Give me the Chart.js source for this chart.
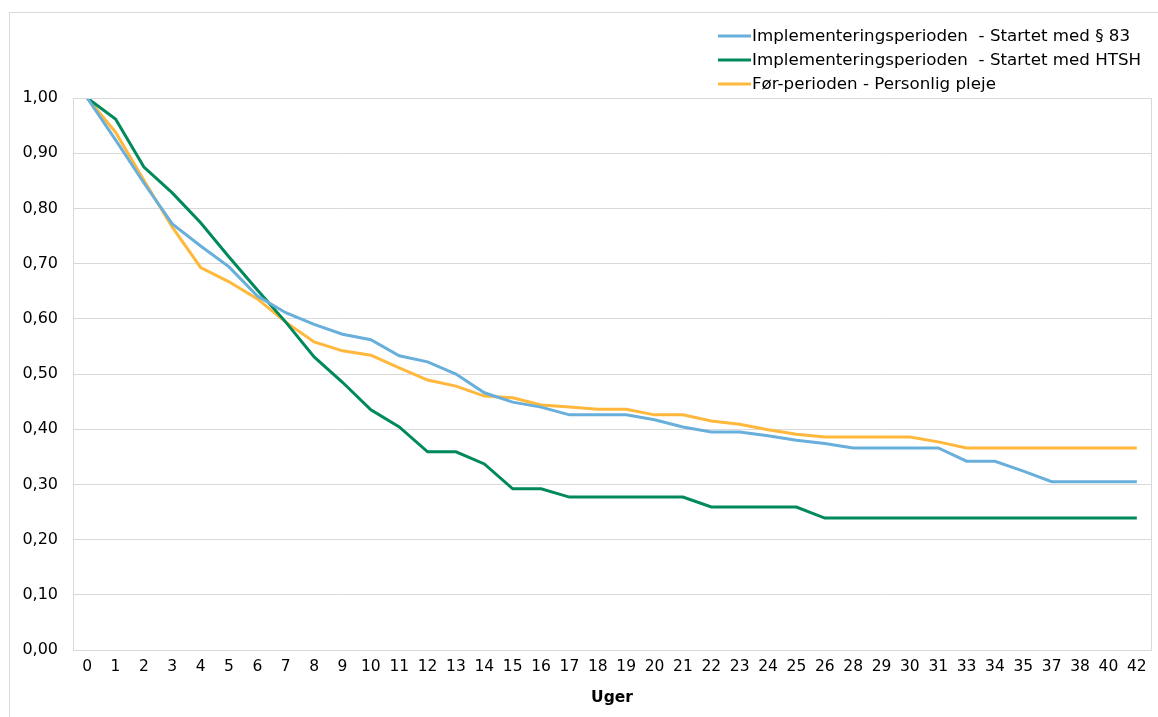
<!DOCTYPE html>
<html>
<head>
<meta charset="utf-8">
<script src="https://cdn.jsdelivr.net/npm/chart.js@4.4.1/dist/chart.umd.min.js"></script>
<style>
  html, body { margin: 0; padding: 0; background: #fff; }
  #wrap { width: 1158px; height: 717px; }
</style>
</head>
<body>
<div id="wrap"><canvas id="chart" width="1158" height="717"></canvas></div>
<script>
// Uger (x-akse)
const uger = ['0','1','2','3','4','5','6','7','8','9','10','11','12','13','14','15','16','17','18','19','20',
  '21','22','23','24','25','26','28','29','30','31','33','34','35','37','38','40','42'];

// Implementeringsperioden - Startet med § 83
const startetParagraf83 = [1.00,0.924,0.846,0.772,0.732,0.694,0.641,0.611,0.590,0.572,0.562,0.533,0.522,0.500,0.466,
  0.449,0.440,0.426,0.426,0.426,0.417,0.404,0.395,0.395,0.388,0.380,0.374,0.366,0.366,0.366,0.366,
  0.342,0.342,0.324,0.305,0.305,0.305,0.305];

// Implementeringsperioden - Startet med HTSH
const startetHTSH = [1.00,0.962,0.875,0.828,0.774,0.712,0.652,0.594,0.531,0.485,0.435,0.404,0.359,0.359,0.337,
  0.292,0.292,0.277,0.277,0.277,0.277,0.277,0.259,0.259,0.259,0.259,0.239,0.239,0.239,0.239,0.239,
  0.239,0.239,0.239,0.239,0.239,0.239,0.239];

// Før-perioden - Personlig pleje
const foerPerioden = [1.00,0.938,0.851,0.766,0.693,0.667,0.636,0.594,0.558,0.542,0.534,0.511,0.489,0.478,0.460,
  0.457,0.444,0.440,0.436,0.436,0.426,0.426,0.415,0.409,0.399,0.391,0.386,0.386,0.386,0.386,0.377,
  0.366,0.366,0.366,0.366,0.366,0.366,0.366];

const FONT = 'DejaVu Sans, Verdana, sans-serif';
const GRID = '#d9d9d9';

// ramme rundt om hele diagrammet + plotområdet, og legenden oppe til højre
const rammePlugin = {
  id: 'ramme',
  afterDraw(chart) {
    const ctx = chart.ctx;
    const a = chart.chartArea;
    ctx.save();
    ctx.strokeStyle = GRID;
    ctx.lineWidth = 1;
    ctx.strokeRect(9.5, 12.5, chart.width + 10, chart.height + 10);
    ctx.strokeRect(Math.round(a.left) + 0.5, Math.round(a.top) + 0.5,
      Math.round(a.right - a.left), Math.round(a.bottom - a.top));

    // legende
    ctx.font = '16.7px ' + FONT;
    ctx.textBaseline = 'middle';
    ctx.textAlign = 'left';
    chart.data.datasets.forEach((ds, i) => {
      const y = 36 + i * 24;
      ctx.strokeStyle = ds.borderColor;
      ctx.lineWidth = 3;
      ctx.beginPath();
      ctx.moveTo(718, y);
      ctx.lineTo(751, y);
      ctx.stroke();
      ctx.fillStyle = '#000';
      ctx.fillText(ds.label, 752, y + 1);
    });
    ctx.restore();
  }
};

new Chart(document.getElementById('chart'), {
  type: 'line',
  data: {
    labels: uger,
    datasets: [
      { label: 'Implementeringsperioden  - Startet med § 83', data: startetParagraf83, borderColor: '#69afdb' },
      { label: 'Implementeringsperioden  - Startet med HTSH', data: startetHTSH, borderColor: '#00895a' },
      { label: 'Før-perioden - Personlig pleje', data: foerPerioden, borderColor: '#ffb83c' }
    ].map(d => Object.assign(d, { borderWidth: 3, pointRadius: 0, tension: 0, fill: false }))
  },
  options: {
    responsive: false,
    animation: false,
    layout: { padding: { top: 98, right: 7, bottom: 10, left: 0 } },
    plugins: { legend: { display: false }, tooltip: { enabled: false } },
    scales: {
      x: {
        offset: true,
        grid: { display: false, drawTicks: false },
        border: { display: false },
        ticks: { autoSkip: false, maxRotation: 0, color: '#000', padding: 8, font: { family: FONT, size: 15.5 } },
        title: { display: true, text: 'Uger', color: '#000', padding: 0, font: { family: FONT, size: 15.5, weight: 'bold' } },
        afterFit: s => { s.height = 57; }
      },
      y: {
        min: 0,
        max: 1,
        grid: { color: GRID, drawTicks: false },
        border: { display: false },
        ticks: {
          stepSize: 0.1,
          color: '#000',
          padding: 15,
          font: { family: FONT, size: 16 },
          callback: v => v.toFixed(2).replace('.', ',')
        },
        afterFit: s => { s.width = 73; }
      }
    }
  },
  plugins: [rammePlugin]
});
</script>
</body>
</html>
